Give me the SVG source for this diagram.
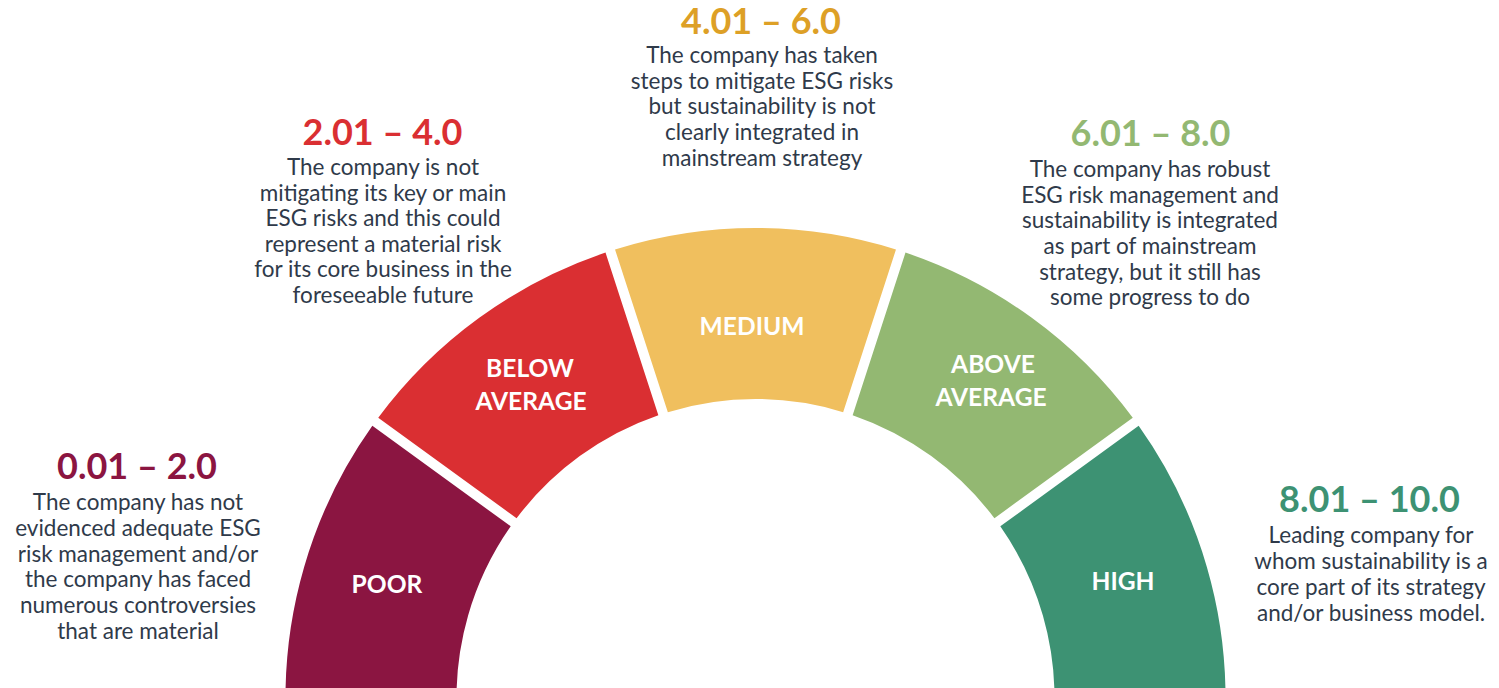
<svg xmlns="http://www.w3.org/2000/svg" width="1499" height="688" viewBox="0 0 1499 688">
  <style>
    .band { stroke: none; }
    .lbl { font-family: Lato, "Liberation Sans", sans-serif; font-weight: 700; font-size: 24.6px; fill: #ffffff; text-anchor: middle; }
    .rng { font-family: Lato, "Liberation Sans", sans-serif; font-weight: 700; font-size: 36px; text-anchor: middle; }
    .desc { font-family: Lato, "Liberation Sans", sans-serif; font-size: 22.5px; fill: #2f3a4a; text-anchor: middle; }
  </style>
  <rect width="1499" height="688" fill="#ffffff"/>

  <!-- gauge bands: centre (755.5, 698), outer r 470, inner r 299, 10px gaps -->
  <g id="poor">
    <path class="band" fill="#8b1541" d="M286.14,722.60 A470,470 0 0 1 372.34,425.79 L510.70,526.32 A299,299 0 0 0 456.91,713.65 Z"/>
    <text class="lbl" x="387" y="593">POOR</text>
  </g>
  <g id="below-average">
    <path class="band" fill="#da2f32" d="M378.23,417.71 A470,470 0 0 1 605.51,252.57 L658.36,415.22 A299,299 0 0 0 516.58,518.23 Z"/>
    <text class="lbl" x="530" y="377">BELOW</text>
    <text class="lbl" x="531" y="410">AVERAGE</text>
  </g>
  <g id="medium">
    <path class="band" fill="#f0bf5e" d="M615.03,249.48 A470,470 0 0 1 895.97,249.48 L843.13,412.13 A299,299 0 0 0 667.87,412.13 Z"/>
    <text class="lbl" x="752" y="335">MEDIUM</text>
  </g>
  <g id="above-average">
    <path class="band" fill="#93b872" d="M905.49,252.57 A470,470 0 0 1 1132.77,417.71 L994.42,518.23 A299,299 0 0 0 852.64,415.22 Z"/>
    <text class="lbl" x="993" y="373">ABOVE</text>
    <text class="lbl" x="991" y="406">AVERAGE</text>
  </g>
  <g id="high">
    <path class="band" fill="#3d9273" d="M1138.66,425.79 A470,470 0 0 1 1224.86,722.60 L1054.09,713.65 A299,299 0 0 0 1000.30,526.32 Z"/>
    <text class="lbl" x="1123" y="590">HIGH</text>
  </g>

  <!-- score ranges and descriptions -->
  <g id="range-poor">
    <text class="rng" x="137" y="479" fill="#8b1541">0.01 – 2.0</text>
    <text class="desc" x="138" y="510">The company has not</text>
    <text class="desc" x="138" y="536">evidenced adequate ESG</text>
    <text class="desc" x="138" y="562">risk management and/or</text>
    <text class="desc" x="138" y="587">the company has faced</text>
    <text class="desc" x="138" y="613">numerous controversies</text>
    <text class="desc" x="138" y="639">that are material</text>
  </g>
  <g id="range-below-average">
    <text class="rng" x="382.5" y="145" fill="#da2f32">2.01 – 4.0</text>
    <text class="desc" x="383" y="175">The company is not</text>
    <text class="desc" x="383" y="201">mitigating its key or main</text>
    <text class="desc" x="383" y="226">ESG risks and this could</text>
    <text class="desc" x="383" y="252">represent a material risk</text>
    <text class="desc" x="383" y="277">for its core business in the</text>
    <text class="desc" x="383" y="303">foreseeable future</text>
  </g>
  <g id="range-medium">
    <text class="rng" x="761" y="34" fill="#dda026">4.01 – 6.0</text>
    <text class="desc" x="762" y="63">The company has taken</text>
    <text class="desc" x="762" y="89">steps to mitigate ESG risks</text>
    <text class="desc" x="762" y="114">but sustainability is not</text>
    <text class="desc" x="762" y="140">clearly integrated in</text>
    <text class="desc" x="762" y="166">mainstream strategy</text>
  </g>
  <g id="range-above-average">
    <text class="rng" x="1150.5" y="146" fill="#93b872">6.01 – 8.0</text>
    <text class="desc" x="1150" y="177">The company has robust</text>
    <text class="desc" x="1150" y="203">ESG risk management and</text>
    <text class="desc" x="1150" y="228">sustainability is integrated</text>
    <text class="desc" x="1150" y="254">as part of mainstream</text>
    <text class="desc" x="1150" y="280">strategy, but it still has</text>
    <text class="desc" x="1150" y="305">some progress to do</text>
  </g>
  <g id="range-high">
    <text class="rng" x="1369.5" y="512" fill="#3d9273">8.01 – 10.0</text>
    <text class="desc" x="1371" y="543">Leading company for</text>
    <text class="desc" x="1371" y="569">whom sustainability is a</text>
    <text class="desc" x="1371" y="595">core part of its strategy</text>
    <text class="desc" x="1371" y="621">and/or business model.</text>
  </g>

  <g id="connectors"/>
</svg>
